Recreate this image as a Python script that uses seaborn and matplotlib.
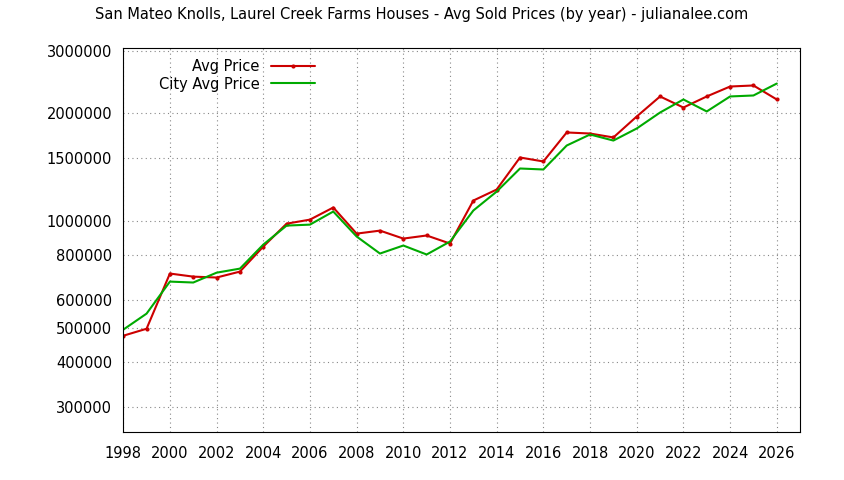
import matplotlib
matplotlib.use("Agg")
import matplotlib.pyplot as plt
import matplotlib.ticker as mticker
import pandas as pd
import seaborn as sns

years = list(range(1998, 2027))
avg_price = [475000, 497000, 710000, 696000, 692000, 719000, 845000, 980000, 1006000,
             1088000, 919000, 937000, 890000, 908000, 862000, 1138000, 1222000, 1503000,
             1465000, 1767000, 1755000, 1711000, 1959000, 2230000, 2076000, 2230000,
             2378000, 2394000, 2187000]
city_avg_price = [494000, 548000, 674000, 670000, 714000, 733000, 856000, 968000, 974000,
                  1060000, 902000, 808000, 851000, 803000, 873000, 1067000, 1206000, 1400000,
                  1391000, 1624000, 1744000, 1677000, 1813000, 2010000, 2187000, 2024000,
                  2230000, 2244000, 2424000]
y_ticks = [300000, 400000, 500000, 600000, 800000, 1000000, 1500000, 2000000, 3000000]
x_ticks = list(range(1998, 2027, 2))

df = pd.DataFrame({"year": years, "Avg Price": avg_price, "City Avg Price": city_avg_price})

sns.set_style("white")
plt.rcParams["font.family"] = ["DejaVu Sans"]
plt.rcParams["text.color"] = "black"
plt.rcParams["xtick.color"] = "black"
plt.rcParams["ytick.color"] = "black"

fig = plt.figure(figsize=(8.44, 4.8), dpi=100)
ax = fig.add_axes([0.146, 0.1, 0.802, 0.8])

sns.lineplot(data=df, x="year", y="Avg Price", ax=ax, color="#cc0000", linewidth=1.5,
             marker="o", markersize=3, markeredgewidth=0, label="Avg Price")
sns.lineplot(data=df, x="year", y="City Avg Price", ax=ax, color="#00aa00", linewidth=1.5,
             label="City Avg Price")

ax.set_yscale("log")
ax.set_ylim(255000, 3050000)
ax.set_xlim(1998, 2027)
ax.yaxis.set_major_locator(mticker.FixedLocator(y_ticks))
ax.yaxis.set_major_formatter(mticker.FuncFormatter(lambda v, p: f"{int(v)}"))
ax.yaxis.set_minor_locator(mticker.NullLocator())
ax.set_xticks(x_ticks)
ax.set_xlabel("")
ax.set_ylabel("")
ax.tick_params(axis="both", labelsize=10.5, direction="in", length=4)
ax.tick_params(axis="x", pad=10)
ax.tick_params(axis="y", pad=8)
ax.grid(True, color="#888888", linestyle=(0, (1, 3)), linewidth=0.8)
for s in ax.spines.values():
    s.set_color("black")
    s.set_linewidth(0.8)

ax.legend(loc="upper left", frameon=False, markerfirst=False, fontsize=10.5,
          bbox_to_anchor=(0.04, 0.995), handlelength=3, borderaxespad=0.2, labelspacing=0.2)
for t in ax.get_legend().get_texts():
    t.set_ha("right")
    t.set_position((0, 0))

fig.suptitle("San Mateo Knolls, Laurel Creek Farms Houses - Avg Sold Prices (by year) - julianalee.com",
             fontsize=10.5, y=0.985)

fig.savefig("out.png", dpi=100)
